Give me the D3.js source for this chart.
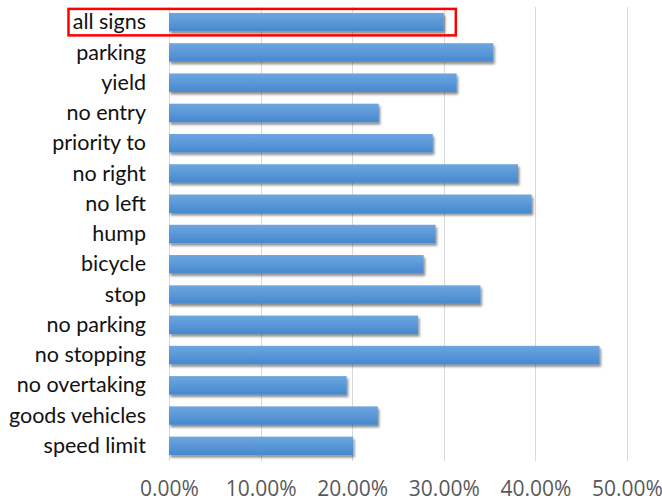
<!DOCTYPE html>
<html>
<head>
<meta charset="utf-8">
<script src="https://cdn.jsdelivr.net/npm/d3@7"></script>
<style>
  html, body { margin: 0; padding: 0; background: #fff; }
  svg { display: block; }
</style>
</head>
<body>
<svg id="chart" width="662" height="502"></svg>
<script>
// Sign categories, top to bottom
const categories = [
  "all signs", "parking", "yield", "no entry", "priority to", "no right",
  "no left", "hump", "bicycle", "stop", "no parking", "no stopping",
  "no overtaking", "goods vehicles", "speed limit"
];
// Share per category (fraction)
const values = [
  0.300, 0.354, 0.314, 0.229, 0.288, 0.381,
  0.396, 0.291, 0.278, 0.340, 0.272, 0.470,
  0.194, 0.228, 0.201
];
// Axis ticks
const ticks = [0, 0.1, 0.2, 0.3, 0.4, 0.5];
const highlighted = "all signs";

const svg = d3.select("#chart");

const x = d3.scaleLinear().domain([0, 0.5]).range([169, 627]);
const y = d3.scaleBand().domain(categories).range([7, 461])
  .paddingInner(0.39).paddingOuter(0.195);

const defs = svg.append("defs");
const grad = defs.append("linearGradient")
  .attr("id", "barGrad").attr("x1", 0).attr("y1", 0).attr("x2", 0).attr("y2", 1);
grad.append("stop").attr("offset", "0%").attr("stop-color", "#6ea7df");
grad.append("stop").attr("offset", "100%").attr("stop-color", "#4688cf");

const shadow = defs.append("filter").attr("id", "barShadow")
  .attr("x", "-5%").attr("y", "-30%").attr("width", "115%").attr("height", "180%");
shadow.append("feDropShadow")
  .attr("dx", 1.5).attr("dy", 2.5).attr("stdDeviation", 1)
  .attr("flood-color", "#000").attr("flood-opacity", 0.45);

// Vertical gridlines
svg.append("g").selectAll("line").data(ticks).join("line")
  .attr("x1", d => Math.round(x(d)) + 0.5).attr("x2", d => Math.round(x(d)) + 0.5)
  .attr("y1", 7).attr("y2", 461)
  .attr("stroke", "#d9d9d9").attr("stroke-width", 1);

// Bars
svg.append("g").selectAll("rect").data(categories).join("rect")
  .attr("x", x(0))
  .attr("y", d => y(d))
  .attr("width", (d, i) => x(values[i]) - x(0))
  .attr("height", y.bandwidth())
  .attr("fill", "url(#barGrad)")
  .attr("filter", "url(#barShadow)");

// Category labels
const yAxis = d3.axisLeft(y).tickSize(0).tickPadding(0);
const yg = svg.append("g").attr("transform", "translate(146,0)").call(yAxis);
yg.select(".domain").remove();
yg.selectAll("text")
  .attr("font-family", "Lato, 'Open Sans', sans-serif")
  .attr("font-size", 21.5)
  .attr("fill", "#111")
  .attr("dy", "0.33em");

// Percentage axis labels
const xAxis = d3.axisBottom(x).tickValues(ticks).tickSize(0).tickPadding(0)
  .tickFormat(d => (d * 100).toFixed(2) + "%");
const xg = svg.append("g").attr("transform", "translate(0,481)").call(xAxis);
xg.select(".domain").remove();
xg.selectAll("text")
  .attr("font-family", "'Open Sans', sans-serif")
  .attr("font-size", 21)
  .attr("fill", "#595959");

// Highlight box around the "all signs" row
const hi = categories.indexOf(highlighted);
svg.append("rect")
  .attr("x", 68.5)
  .attr("y", y(highlighted) - 4)
  .attr("width", x(values[hi]) + 12 - 68.5)
  .attr("height", y.bandwidth() + 8)
  .attr("fill", "none")
  .attr("stroke", "#ff0000")
  .attr("stroke-width", 2.5);
</script>
</body>
</html>
